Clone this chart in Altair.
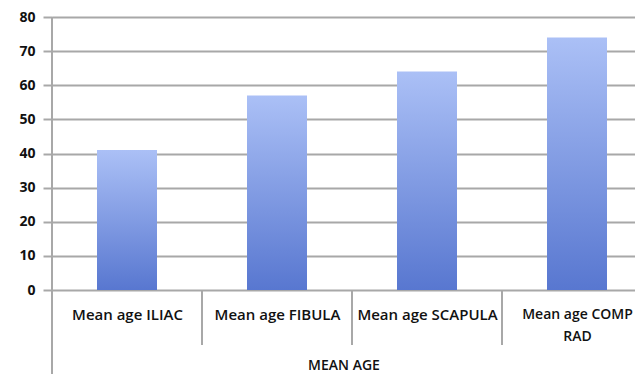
import json
import altair as alt
import pandas as pd

categories = ["Mean age ILIAC", "Mean age FIBULA", "Mean age SCAPULA", "Mean age COMP RAD"]
label_lines = [["Mean age ILIAC"], ["Mean age FIBULA"], ["Mean age SCAPULA"], ["Mean age COMP", "RAD"]]
mean_age = [41, 57, 64, 74]
y_ticks = [0, 10, 20, 30, 40, 50, 60, 70, 80]
axis_title = "MEAN AGE"

positions = list(range(len(categories)))
df = pd.DataFrame({"cat": categories, "pos": positions, "age": mean_age})
df["lo"] = df["pos"] - 0.2
df["hi"] = df["pos"] + 0.2
df["edge"] = df["pos"] - 0.5

W = 583
H = 273
STEP = 150
GRID = "#a8a8a8"

xscale = alt.Scale(domain=[-0.5, -0.5 + W / STEP], nice=False, zero=False, padding=0)

xaxis = alt.Axis(title=axis_title, values=positions, ticks=False, domain=False, grid=False,
                 labelAngle=0, labelFont="Open Sans",
                 labelFontSize={"condition": {"test": "datum.value == 3", "value": 14}, "value": 15},
                 labelFontWeight=600,
                 labelColor="#111111", labelPadding=17, labelBaseline="top",
                 labelLineHeight=22, labelLimit=200, labelFlush=False, labelOverlap=False,
                 labelExpr=json.dumps(label_lines) + "[datum.value]",
                 titleFont="Open Sans", titleFontSize=14, titleFontWeight=600,
                 titleColor="#111111", titleY=75, titleBaseline="middle")

grad = alt.Gradient(
    gradient="linear",
    stops=[alt.GradientStop(color="#abc0f6", offset=0),
           alt.GradientStop(color="#5877d0", offset=1)],
    x1=0, x2=0, y1=0, y2=1,
)

bars = alt.Chart(df).mark_bar(color=grad, orient="vertical").encode(
    x=alt.X("lo:Q", scale=xscale, axis=xaxis),
    x2="hi:Q",
    y=alt.Y("age:Q", scale=alt.Scale(domain=[0, 80], nice=False),
            axis=alt.Axis(values=y_ticks, title=None, domain=False, grid=True,
                          gridColor=GRID, gridWidth=2, tickColor=GRID, tickWidth=2,
                          tickSize=9, labelPadding=8, labelFont="Open Sans",
                          labelFontSize=14, labelFontWeight="bold", labelColor="#111111")),
    y2=alt.datum(0),
)

dividers = alt.Chart(df).mark_rule(color=GRID, strokeWidth=2).encode(
    x=alt.X("edge:Q", scale=xscale, axis=xaxis),
    y=alt.value(H),
    y2=alt.value(H + 55),
)

left_line = alt.Chart(df).mark_rule(color=GRID, strokeWidth=2).encode(
    x=alt.value(0),
    y=alt.value(0),
    y2=alt.value(H + 84),
)

chart = alt.layer(bars, dividers, left_line).properties(
    width=W, height=H,
    autosize=alt.AutoSizeParams(type="none"),
    padding={"left": 44, "top": 9, "right": 0, "bottom": 84},
).configure_view(stroke=None)

chart.save("out.html", embed_options={"renderer": "svg", "actions": False})
